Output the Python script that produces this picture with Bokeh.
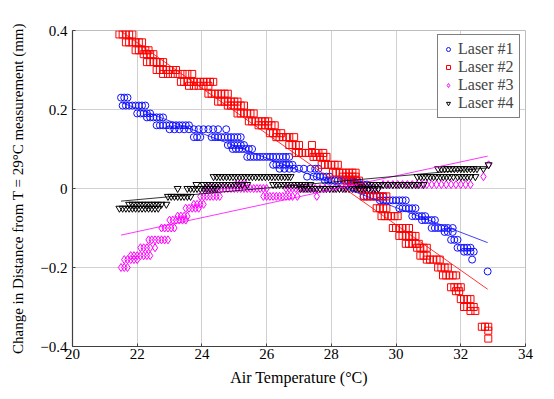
from bokeh.plotting import figure
from bokeh.models import Legend, LegendItem, FixedTicker
from bokeh.embed import file_html
from bokeh.resources import INLINE

# ---------------- data ----------------
# each laser: list of distance levels (mm) and, for each level, the air temperatures (deg C)
laser1_levels = [0.23, 0.21, 0.19, 0.18, 0.16, 0.15, 0.13, 0.11, 0.10, 0.08, 0.06, 0.05, 0.03, 0.02, 0.01,
                 -0.02, -0.03, -0.05, -0.07, -0.08, -0.10, -0.11, -0.13, -0.15, -0.16, -0.18, -0.21]
laser1_temps = [
    [21.50, 21.60, 21.70],
    [21.55, 21.65, 21.75, 21.85, 21.95, 22.05, 22.15, 22.25],
    [22.00, 22.10, 22.20, 22.30, 22.40],
    [22.30, 22.40, 22.50, 22.60, 22.70, 22.80],
    [22.60, 22.70, 22.80, 22.90, 23.00, 23.10, 23.20, 23.30, 23.40, 23.50, 23.60],
    [23.00, 23.15, 23.30, 23.45, 23.60, 23.75, 23.90, 24.05, 24.20, 24.35, 24.50, 24.75],
    [23.75, 23.85, 23.95, 24.30, 24.40, 24.50, 24.60, 24.70, 24.80, 24.90, 25.00, 25.10, 25.20],
    [24.80, 24.90, 25.00, 25.10, 25.20, 25.30],
    [24.95, 25.05, 25.15, 25.25, 25.35, 25.45, 25.55],
    [25.40, 25.50, 25.60, 25.70, 25.80, 25.90, 26.00, 26.10, 26.20, 26.30, 26.40, 26.50, 26.60, 26.70],
    [26.20, 26.30, 26.40, 26.50, 26.60, 26.70, 26.80],
    [26.40, 26.55, 26.70, 26.85, 27.00, 27.15, 27.35, 27.50, 27.60],
    [27.25, 27.45, 27.55, 27.65, 27.75, 27.85, 27.95],
    [27.80, 27.90, 28.00, 28.10, 28.20, 28.30, 28.40, 28.50, 28.60, 28.70, 28.80],
    [28.60, 28.70, 28.80, 28.90, 29.00, 29.10],
    [29.00, 29.10, 29.20, 29.30, 29.40, 29.50, 29.60],
    [29.50, 29.60, 29.70, 29.80, 29.90, 30.00, 30.10, 30.20, 30.30],
    [30.10, 30.20, 30.30, 30.40, 30.50, 30.60],
    [30.50, 30.60, 30.70, 30.80, 30.90],
    [30.80, 30.90, 31.00, 31.10, 31.20],
    [31.10, 31.20, 31.30, 31.40, 31.50, 31.60, 31.75],
    [31.50, 31.60, 31.75],
    [31.70, 31.80, 31.90],
    [31.90, 32.00, 32.10, 32.20, 32.30],
    [32.10, 32.20, 32.30, 32.40],
    [32.35],
    [32.83],
]

laser2_levels = [0.39, 0.37, 0.35, 0.34, 0.32, 0.30, 0.29, 0.27, 0.26, 0.24, 0.22, 0.21, 0.19, 0.17, 0.16,
                 0.14, 0.13, 0.11, 0.09, 0.08, 0.06, 0.04, 0.03, 0.02, 0.00, -0.02, -0.05, -0.07, -0.10,
                 -0.12, -0.14, -0.15, -0.17, -0.18, -0.20, -0.22, -0.25, -0.26, -0.28, -0.30, -0.31,
                 -0.35, -0.36, -0.38]
laser2_temps = [
    [21.45, 21.55, 21.65, 21.75, 21.85],
    [21.65, 21.75, 21.85, 21.95, 22.05, 22.15],
    [21.95, 22.05, 22.15, 22.25, 22.35],
    [22.20, 22.30, 22.40, 22.50],
    [22.30, 22.40, 22.50, 22.60, 22.70, 22.80],
    [22.60, 22.70, 22.80, 22.90, 23.00, 23.10, 23.20],
    [22.80, 22.95, 23.10, 23.25, 23.40, 23.55, 23.70],
    [23.35, 23.45, 23.55, 23.65, 23.75, 23.85, 23.95, 24.05, 24.15, 24.25, 24.35],
    [23.60, 23.75, 23.90, 24.05, 24.20],
    [24.20, 24.30, 24.40, 24.50, 24.60, 24.70, 24.80],
    [24.50, 24.60, 24.70, 24.80, 24.90, 25.00, 25.10],
    [24.80, 24.90, 25.00, 25.10, 25.20, 25.30],
    [25.10, 25.20, 25.30, 25.40, 25.50, 25.60],
    [25.45, 25.55, 25.65, 25.75, 25.85, 25.95, 26.05],
    [25.75, 25.85, 25.95, 26.05, 26.15, 26.25],
    [26.10, 26.20, 26.30, 26.45],
    [26.30, 26.40, 26.50, 26.60, 26.70, 26.85],
    [26.70, 26.80, 26.90, 27.00, 27.40],
    [26.90, 27.00, 27.10, 27.20, 27.30, 27.40, 27.50, 27.60, 27.75],
    [27.45, 27.55, 27.65, 27.75, 27.85],
    [27.70, 27.80, 27.90, 28.00, 28.10, 28.20],
    [28.05, 28.15, 28.25, 28.35, 28.45, 28.55, 28.65, 28.75],
    [28.35, 28.45, 28.55, 28.65, 28.75],
    [28.45, 28.55, 28.65, 28.75, 28.85],
    [28.85, 28.95],
    [29.00, 29.10, 29.20, 29.30, 29.40, 29.50, 29.60, 29.70],
    [29.40, 29.50, 29.60, 29.70],
    [29.55, 29.65, 29.75, 29.85, 29.95, 30.05],
    [29.90, 30.00, 30.10, 30.20, 30.30, 30.40],
    [30.10, 30.20, 30.30, 30.40, 30.50, 30.60],
    [30.30, 30.40, 30.50, 30.60, 30.70],
    [30.65, 30.75, 30.85, 30.95],
    [30.75, 30.85, 30.95],
    [30.95, 31.05, 31.15, 31.25, 31.35],
    [31.30, 31.40, 31.50, 31.60],
    [31.45, 31.55, 31.65, 31.75, 31.85],
    [31.70, 31.80, 31.90, 32.00],
    [31.85, 31.95],
    [32.00, 32.10, 32.20, 32.30],
    [32.10, 32.20, 32.30, 32.40],
    [32.30, 32.45],
    [32.65, 32.75, 32.85],
    [32.85],
    [32.85],
]

laser3_levels = [-0.20, -0.18, -0.17, -0.15, -0.13, -0.10, -0.08, -0.07, -0.05, -0.04, -0.02,
                 0.00, 0.01, -0.02, 0.01, 0.03, 0.06]
laser3_temps = [
    [21.50, 21.60, 21.70],
    [21.60, 21.70, 21.80, 21.90, 22.00],
    [21.80, 21.90, 22.00, 22.10, 22.20, 22.30, 22.40],
    [22.10, 22.20, 22.30, 22.40, 22.55],
    [22.35, 22.45, 22.55, 22.65, 22.75, 22.85, 22.95],
    [22.75, 22.85, 22.95, 23.05, 23.15],
    [23.00, 23.10, 23.20, 23.30, 23.40, 23.50],
    [23.25, 23.35, 23.45, 23.55],
    [23.50, 23.60, 23.70, 23.80, 23.90],
    [23.75, 23.85, 23.95, 24.05],
    [23.95, 24.05, 24.15, 24.25, 24.35, 24.45, 24.55],
    [24.10, 24.20, 24.30, 24.40, 24.50, 24.60, 24.70, 24.80, 24.90, 25.00, 25.10, 25.20, 25.30,
     25.40, 25.50, 25.60, 25.70, 25.80, 25.90, 26.00, 26.60, 26.70, 26.80, 26.90, 27.00, 27.10,
     27.20, 27.30, 27.40, 27.50, 27.65, 27.80, 27.95, 28.10, 28.25, 28.40, 28.55, 28.70, 28.85,
     29.00, 29.15, 29.30, 29.45],
    [25.05, 25.15, 25.25, 25.35],
    [25.90, 26.00, 26.10, 26.20, 26.30, 26.40, 26.50, 26.60, 26.70, 26.80, 26.95, 27.55],
    [29.60, 29.75, 29.90, 30.05, 30.20, 30.35, 30.50, 30.65, 30.80, 30.95, 31.10, 31.25, 31.40,
     31.55, 31.70, 31.85, 32.00, 32.15, 32.30],
    [32.70],
    [32.86],
]

laser4_levels = [-0.05, -0.04, -0.02, 0.00, 0.01, 0.03, 0.05, 0.06]
laser4_temps = [
    [21.45, 21.55, 21.65, 21.75, 21.85, 21.95, 22.05, 22.15, 22.25, 22.35, 22.45, 22.55, 22.65],
    [21.75, 21.85, 21.95, 22.05, 22.15, 22.25, 22.35, 22.45, 22.55, 22.65, 22.75, 22.90],
    [22.95, 23.05, 23.15, 23.25, 23.35, 23.45, 23.55, 23.65],
    [23.25, 23.55, 23.65, 23.75, 23.85, 23.95, 24.05, 24.15, 24.25, 24.35, 24.45,
     27.05, 27.15, 27.25, 27.35, 27.45, 27.55, 27.65, 27.75, 27.85, 27.95, 28.05, 28.15, 28.25,
     28.35, 28.45, 28.55, 28.65, 28.75, 28.85, 28.95, 29.05, 29.15, 29.25, 29.35, 29.45],
    [23.83, 24.05, 24.15, 24.25, 24.35, 24.45, 24.55, 24.65, 24.75, 24.85, 24.95, 25.05, 25.15,
     25.25, 25.40, 26.20, 26.30, 26.40, 26.50, 26.60, 26.70, 26.80, 26.90, 27.00, 27.10, 27.20,
     27.35, 28.80, 28.90, 29.00, 29.10, 29.20, 29.30, 29.40, 29.50, 29.60, 29.70, 29.80, 29.90,
     30.00, 30.10, 30.20, 30.30, 30.40, 30.50, 30.60, 30.70, 30.85],
    [24.36, 24.46, 24.56, 24.66, 24.76, 24.86, 24.96, 25.06, 25.16, 25.26, 25.36, 25.46, 25.56,
     25.66, 25.76, 25.86, 25.96, 26.06, 26.16, 26.26, 26.36, 26.46, 26.56, 26.66, 26.74,
     30.66, 30.76, 30.86, 30.96, 31.06, 31.16, 31.26, 31.37, 31.46, 31.56, 31.66, 31.77,
     31.90, 32.00, 32.10, 32.20, 32.30, 32.45],
    [31.30, 31.40, 31.50, 31.60, 31.70, 31.80, 31.90, 32.00, 32.10, 32.20, 32.30, 32.40, 32.50, 32.70],
    [32.86],
]

# linear fits (end points)
fit_temps = [21.5, 32.83]
laser1_fit = [0.218, -0.137]
laser2_fit = [0.398, -0.255]
laser3_fit = [-0.118, 0.082]
laser4_fit = [-0.032, 0.052]

series_names = ["Laser #1", "Laser #2", "Laser #3", "Laser #4"]
x_ticks = [20, 22, 24, 26, 28, 30, 32, 34]
y_ticks = [-0.4, -0.2, 0, 0.2, 0.4]
y_tick_labels = ["\u22120.4", "\u22120.2", "0", "0.2", "0.4"]


def expand(levels, temps):
    xs, ys = [], []
    for lv, ts in zip(levels, temps):
        xs.extend(ts)
        ys.extend([lv] * len(ts))
    return xs, ys


FONT = "Liberation Serif"

p = figure(width=538, height=390, x_range=(20, 34), y_range=(-0.4, 0.4),
           output_backend="svg", toolbar_location=None,
           min_border_left=72, min_border_right=13, min_border_top=30, min_border_bottom=44)
p.background_fill_color = "white"
p.border_fill_color = "white"
p.outline_line_color = "#bdbdbd"
p.outline_line_width = 1

p.xaxis.ticker = FixedTicker(ticks=x_ticks)
p.yaxis.ticker = FixedTicker(ticks=y_ticks)
p.yaxis.major_label_overrides = {t: l for t, l in zip(y_ticks, y_tick_labels)}
p.xgrid.grid_line_color = "#d0d0d0"
p.ygrid.grid_line_color = "#d0d0d0"
p.xgrid.ticker = FixedTicker(ticks=x_ticks)
p.ygrid.ticker = FixedTicker(ticks=y_ticks)

for ax in (p.xaxis[0], p.yaxis[0]):
    ax.axis_line_color = "#404040"
    ax.axis_line_width = 1.2
    ax.major_tick_in = 3
    ax.major_tick_out = 0
    ax.major_tick_line_color = "#404040"
    ax.minor_tick_line_color = None
    ax.major_label_text_font = FONT
    ax.major_label_text_font_size = "15px"
    ax.major_label_text_color = "black"
    ax.axis_label_text_font = FONT
    ax.axis_label_text_font_size = "15px"
    ax.axis_label_text_font_style = "normal"
    ax.axis_label_text_color = "black"

p.xaxis.axis_label = "Air Temperature (\u00b0C)"
p.yaxis.axis_label = "Change in Distance from T = 29\u00b0C measurement (mm)"
p.xaxis.axis_label_text_font_size = "16px"
p.xaxis.major_label_standoff = 2
p.xaxis.axis_label_standoff = 7
p.yaxis.major_label_standoff = 5
p.yaxis.axis_label_standoff = 11

colors = ["#1010ff", "#ff0000", "#ff00ff", "#000000"]
markers = ["circle", "square", "diamond", "inverted_triangle"]
sizes = [7, 7, 8, 7]
data = [(laser1_levels, laser1_temps), (laser2_levels, laser2_temps),
        (laser3_levels, laser3_temps), (laser4_levels, laser4_temps)]

renderers = []
for (lv, ts), c, m, s in zip(data, colors, markers, sizes):
    xs, ys = expand(lv, ts)
    r = p.scatter(xs, ys, marker=m, size=s, line_color=c, fill_color=None, line_width=1)
    renderers.append(r)

for fit, c in zip([laser1_fit, laser2_fit, laser3_fit, laser4_fit], colors):
    p.line(fit_temps, fit, line_color=c, line_width=0.8)

legend = Legend(items=[LegendItem(label=n, renderers=[r]) for n, r in zip(series_names, renderers)],
                location=(365, 228))
legend.label_text_font = FONT
legend.label_text_font_size = "16px"
legend.border_line_color = "black"
legend.border_line_width = 1
legend.background_fill_alpha = 1
legend.padding = 5
legend.spacing = 0
legend.margin = 0
legend.glyph_width = 10
legend.glyph_height = 18
legend.label_height = 18
legend.label_standoff = 5
p.add_layout(legend, "center")

open("out.html", "w").write(file_html(p, INLINE))
